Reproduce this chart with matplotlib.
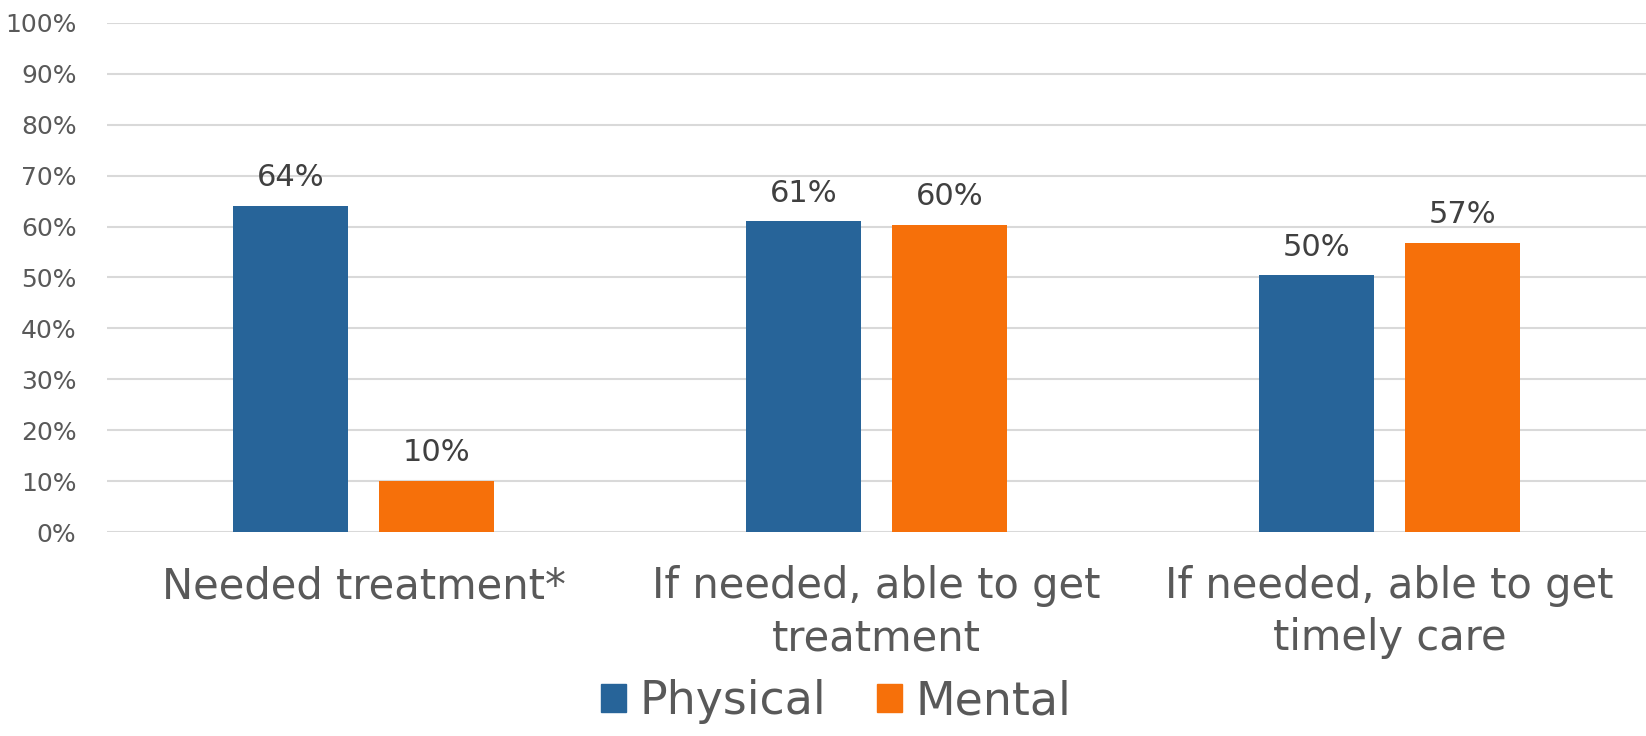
import matplotlib.pyplot as plt
import numpy as np
from matplotlib.patches import Patch

categories = ["Needed treatment*",
              "If needed, able to get\ntreatment",
              "If needed, able to get\ntimely care"]
physical = [64.1, 61.0, 50.4]
mental = [10.1, 60.4, 56.7]
series_names = ["Physical", "Mental"]
yticks = [0, 10, 20, 30, 40, 50, 60, 70, 80, 90, 100]

blue = '#276499'
orange = '#F6700A'
grey = '#595959'

plt.rcParams['font.family'] = ['DejaVu Sans']

fig = plt.figure(figsize=(16.46, 7.36), dpi=100)
ax = fig.add_axes([0.065, 0.277, 0.935, 0.692])

x = np.arange(len(categories))
w = 0.225
off = 0.142
b1 = ax.bar(x - off, physical, w, color=blue, zorder=3)
b2 = ax.bar(x + off, mental, w, color=orange, zorder=3)

for bars, vals in ((b1, physical), (b2, mental)):
    for r, v in zip(bars, vals):
        ax.annotate('%.0f%%' % v, (r.get_x() + r.get_width() / 2, v),
                    xytext=(0, 10), textcoords='offset points',
                    ha='center', va='bottom', fontsize=22, color='#404040')

ax.set_xlim(-0.5, 2.5)
ax.set_ylim(0, 100)
ax.set_yticks(yticks)
ax.set_yticklabels(['%d%%' % t for t in yticks], fontsize=18, color=grey)
ax.set_xticks(x)
ax.set_xticklabels(categories, fontsize=30, color=grey, linespacing=1.3)
ax.tick_params(axis='both', length=0)
ax.tick_params(axis='y', pad=22)
ax.tick_params(axis='x', pad=24)
ax.yaxis.grid(True, color='#D9D9D9', linewidth=1.5, zorder=0)
for s in ax.spines.values():
    s.set_visible(False)

handles = [Patch(color=blue), Patch(color=orange)]
fig.legend(handles, series_names, loc='lower center', ncol=2, frameon=False,
           fontsize=33, labelcolor=grey, handlelength=0.55, handleheight=0.55,
           handletextpad=0.3, columnspacing=1.1, bbox_to_anchor=(0.508, -0.04))

fig.savefig('out.png', dpi=100)
